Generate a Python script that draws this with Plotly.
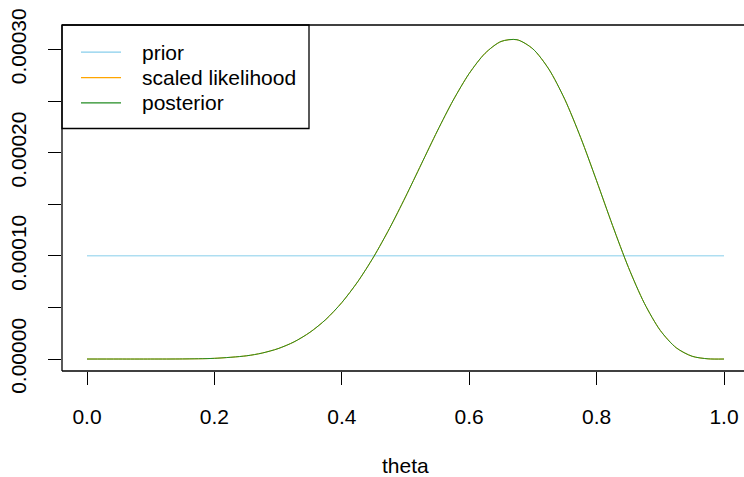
import plotly.graph_objects as go

# data
theta = [0, 0.05, 0.1, 0.15, 0.2, 0.25, 0.275, 0.3, 0.325, 0.35, 0.375, 0.4, 0.425,
         0.45, 0.475, 0.5, 0.525, 0.55, 0.575, 0.6, 0.625, 0.65, 0.675, 0.7, 0.725,
         0.75, 0.775, 0.8, 0.825, 0.85, 0.875, 0.9, 0.925, 0.95, 0.975, 1.0]
posterior_e4 = [0, 0, 0, 0.00086, 0.0067, 0.031, 0.058, 0.101, 0.166, 0.259, 0.384,
                0.547, 0.749, 0.990, 1.267, 1.571, 1.891, 2.210, 2.509, 2.767, 2.963,
                3.077, 3.094, 3.005, 2.809, 2.517, 2.146, 1.727, 1.295, 0.888, 0.540,
                0.277, 0.109, 0.0267, 0.002, 0]
posterior = [v * 1e-4 for v in posterior_e4]
likelihood = list(posterior)
prior_x = [0, 1]
prior = [0.0001, 0.0001]

legend_labels = ["prior", "scaled likelihood", "posterior"]
colors = ["#87CEEB", "#FFA500", "#228B22"]
x_ticks = [0, 0.2, 0.4, 0.6, 0.8, 1.0]
x_ticktext = ["0.0", "0.2", "0.4", "0.6", "0.8", "1.0"]
y_ticks = [0, 0.00005, 0.0001, 0.00015, 0.0002, 0.00025, 0.0003]
y_ticktext = ["0.00000", "", "0.00010", "", "0.00020", "", "0.00030"]

FONT = "Liberation Sans, Arial, sans-serif"
FS = 21

fig = go.Figure()
fig.add_trace(go.Scatter(x=prior_x, y=prior, mode="lines",
                         line=dict(color=colors[0], width=1), showlegend=False))
fig.add_trace(go.Scatter(x=theta, y=likelihood, mode="lines",
                         line=dict(color=colors[1], width=1, shape="spline", smoothing=0.8),
                         showlegend=False))
fig.add_trace(go.Scatter(x=theta, y=posterior, mode="lines",
                         line=dict(color=colors[2], width=1, shape="spline", smoothing=0.8),
                         showlegend=False))

W, H = 744, 477
L, T, B = 62, 24.5, 371.5

def px(x):
    return (x - L) / (W - L)

def py(y):
    return (B - y) / (B - T)

shapes = []
# plot box (left, top, bottom; right side off canvas)
for (x0, y0, x1, y1) in [(0, 0, 0, 1), (0, 1, 1, 1), (0, 0, 1, 0)]:
    shapes.append(dict(type="line", xref="paper", yref="paper", x0=x0, y0=y0, x1=x1, y1=y1,
                       line=dict(color="black", width=1.3)))
# legend box
shapes.append(dict(type="rect", xref="paper", yref="paper", x0=px(62), x1=px(309),
                   y0=py(128.3), y1=py(24.5), line=dict(color="black", width=1.3)))
annotations = []
rows = [51.7, 77.3, 102.7]
for lab, col, ry in zip(legend_labels, colors, rows):
    shapes.append(dict(type="line", xref="paper", yref="paper", x0=px(81), x1=px(121),
                       y0=py(ry), y1=py(ry), line=dict(color=col, width=1.3)))
    annotations.append(dict(xref="paper", yref="paper", x=px(140), y=py(ry), text=lab,
                            showarrow=False, xanchor="left", yanchor="middle",
                            font=dict(family=FONT, size=FS, color="black")))
annotations.append(dict(xref="paper", yref="paper", x=px(405.5), y=py(466), text="theta",
                        showarrow=False, xanchor="center", yanchor="middle",
                        font=dict(family=FONT, size=FS, color="black")))

ppu = 637.0
xmin = -(87 - L) / ppu
xmax = xmin + (W - L) / ppu
ypu = 310.5 / 0.0003
y0px = 359.5
ymin = -(B - y0px) / ypu
ymax = (y0px - T) / ypu

fig.update_layout(
    width=W, height=H,
    margin=dict(l=L, r=0, t=T, b=H - B, pad=0),
    paper_bgcolor="white", plot_bgcolor="white",
    font=dict(family=FONT, size=FS, color="black"),
    xaxis=dict(range=[xmin, xmax], tickvals=x_ticks, ticktext=x_ticktext,
               ticks="outside", ticklen=13, tickwidth=1.3, tickcolor="black",
               showgrid=False, zeroline=False, showline=False,
               ticklabelstandoff=14, tickfont=dict(family=FONT, size=FS)),
    yaxis=dict(range=[ymin, ymax], tickvals=y_ticks, ticktext=y_ticktext,
               ticks="outside", ticklen=13, tickwidth=1.3, tickcolor="black",
               showgrid=False, zeroline=False, showline=False, tickangle=-90,
               ticklabelstandoff=14, tickfont=dict(family=FONT, size=FS)),
    shapes=shapes, annotations=annotations,
)

fig.write_html("out.html")
